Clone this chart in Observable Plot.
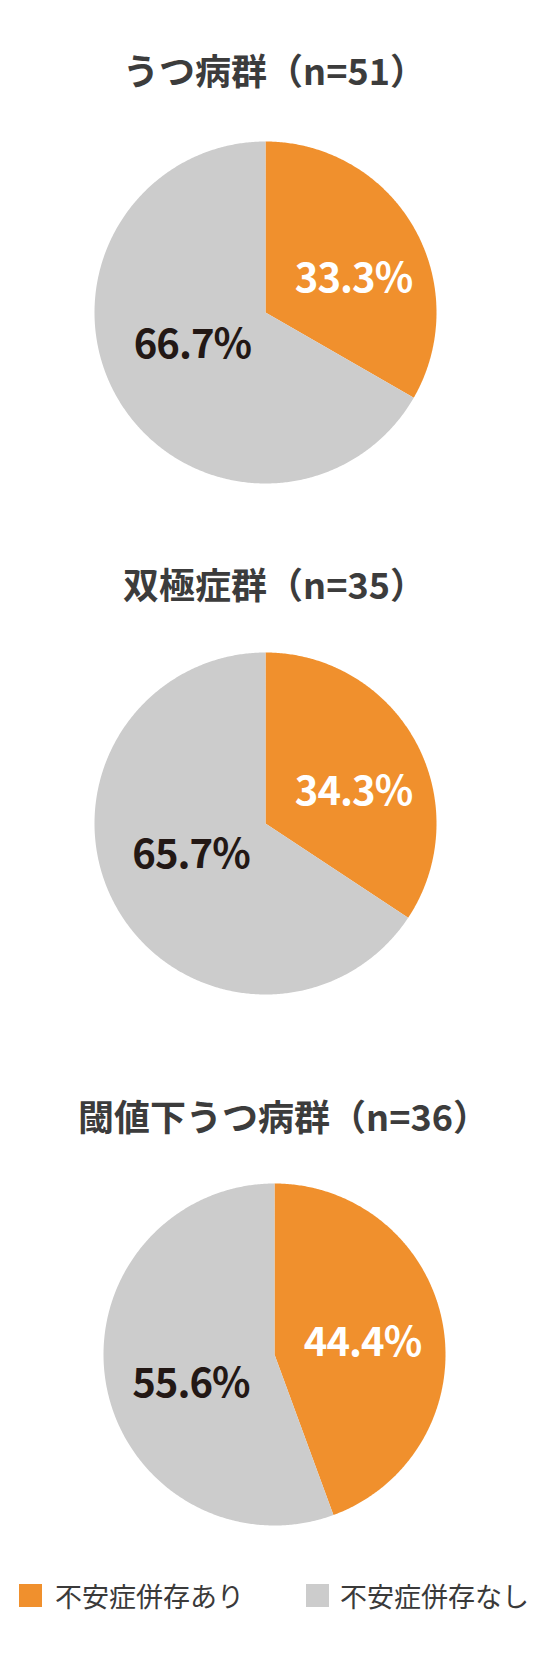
<!DOCTYPE html>
<html>
<head>
<meta charset="utf-8">
<script src="https://cdn.jsdelivr.net/npm/d3@7"></script>
<script src="https://cdn.jsdelivr.net/npm/@observablehq/plot@0.6"></script>
<style>
  body { margin: 0; background: #ffffff; }
  #chart svg { display: block; }
  #legend { position: relative; width: 550px; height: 108px; font-family: "Noto Sans CJK JP", sans-serif; font-size: 27px; color: #3a3a3a; }
  .sw { position: absolute; width: 23px; height: 23px; top: 24px; }
  .lab { position: absolute; top: 22px; line-height: 28px; white-space: nowrap; }
</style>
</head>
<body>
<div id="chart"></div>
<div id="legend"></div>
<script>
// ---- data ----
const groups = ["うつ病群（n=51）", "双極症群（n=35）", "閾値下うつ病群（n=36）"];
const categories = ["不安症併存あり", "不安症併存なし"];
const withAnxiety = [33.3, 34.3, 44.4];
const withoutAnxiety = [66.7, 65.7, 55.6];
const colors = ["#F0902D", "#CCCCCC"];
const labelColors = ["#ffffff", "#231815"];

// ---- layout ----
const W = 550, H = 1560;
const R = 171;
const titleSize = 36;
const layout = [
  {cx: 265, cy: 312, ty: 73},
  {cx: 265, cy: 823, ty: 587},
  {cx: 274, cy: 1354, ty: 1119}
];

const slices = [];
const labels = [];
const titles = [];
groups.forEach((g, gi) => {
  const {cx, cy, ty} = layout[gi];
  titles.push({x: cx + titleSize * 0.25, y: ty, text: g});
  const vals = [withAnxiety[gi], withoutAnxiety[gi]];
  let a0 = 0;
  vals.forEach((v, ci) => {
    const span = v / 100 * 2 * Math.PI;
    const a1 = a0 + span;
    const key = gi + "-" + ci;
    slices.push({key, cat: categories[ci], x: cx, y: cy});
    const n = Math.max(2, Math.ceil(span / (Math.PI / 360)));
    for (let k = 0; k <= n; k++) {
      const a = a0 + span * k / n;
      slices.push({key, cat: categories[ci], x: cx + R * Math.sin(a), y: cy - R * Math.cos(a)});
    }
    slices.push({key, cat: categories[ci], x: cx, y: cy});
    const mid = (a0 + a1) / 2;
    let dy = -66 * Math.cos(mid);
    if (ci === 1) dy = Math.max(dy, 30);
    const dx = ci === 0 ? 88 : 88 * Math.sin(mid) + 3;
    labels.push({
      x: cx + dx,
      y: cy + dy,
      text: v.toFixed(1) + "%",
      color: labelColors[ci]
    });
    a0 = a1;
  });
});

const chart = Plot.plot({
  width: W,
  height: H,
  margin: 0,
  x: {domain: [0, W], range: [0, W], axis: null},
  y: {domain: [0, H], range: [0, H], axis: null},
  color: {domain: categories, range: colors},
  style: {background: "#ffffff"},
  marks: [
    Plot.line(slices, {x: "x", y: "y", z: "key", fill: "cat", stroke: "none", curve: "linear"}),
    Plot.text(titles, {x: "x", y: "y", text: "text", fontSize: titleSize, fontWeight: "bold", fill: "#3c3c3c", fontFamily: "Noto Sans CJK JP", textAnchor: "middle"}),
    Plot.text(labels, {x: "x", y: "y", text: "text", fill: d => d.color, fontSize: 40, fontWeight: "bold", fontFamily: "Noto Sans CJK JP", textAnchor: "middle"})
  ]
});
d3.select(chart).selectAll("g[aria-label=text]").filter((d, i) => i === 1).attr("letter-spacing", "-1");
document.getElementById("chart").appendChild(chart);

// ---- legend ----
const legend = document.getElementById("legend");
const legendPos = [{sw: 19, lab: 55}, {sw: 306, lab: 340}];
categories.forEach((c, i) => {
  const s = document.createElement("div");
  s.className = "sw";
  s.style.left = legendPos[i].sw + "px";
  s.style.background = colors[i];
  legend.appendChild(s);
  const t = document.createElement("div");
  t.className = "lab";
  t.style.left = legendPos[i].lab + "px";
  t.textContent = c;
  legend.appendChild(t);
});
</script>
</body>
</html>
